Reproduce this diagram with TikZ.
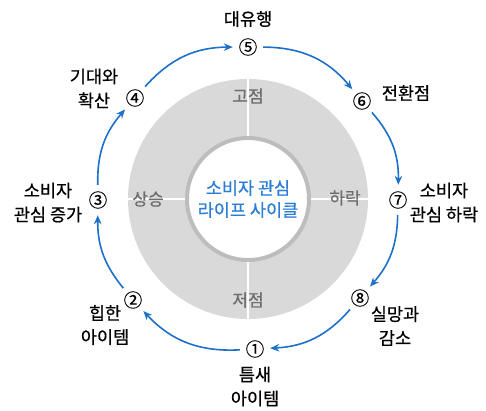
\documentclass[tikz,border=0pt]{standalone}
\usepackage{fontspec}
\setmainfont{Noto Sans CJK KR}
\newfontfamily\krmed{Noto Sans CJK KR}[FakeBold=0.6]
\usetikzlibrary{arrows.meta}
\definecolor{cycblue}{HTML}{1C70C8}
\definecolor{ctrblue}{HTML}{2A7DD4}
\definecolor{diskc}{HTML}{D9D9D9}
\definecolor{ringc}{HTML}{BDBDBD}
\definecolor{phasec}{HTML}{6E6E6E}
\begin{document}
\begin{tikzpicture}[x=1pt,y=1pt,
  lbl/.style={font=\krmed\fontsize{17.5}{24}\selectfont, align=center, text=black, inner sep=0pt},
  phase/.style={font=\krmed\fontsize{17}{20}\selectfont, text=phasec, inner sep=0pt},
  numnode/.style={circle, minimum size=30pt, inner sep=0pt, font=\krmed\fontsize{18.5}{18.5}\selectfont},
  cyc/.style={draw=cycblue, line width=1.6pt, -{Stealth[length=9pt,width=7.5pt]}}
]
\useasboundingbox (0,0) rectangle (486,410);
\coordinate (c) at (248,211);
% gray disk with white cross
\fill[diskc] (c) circle (120);
\draw[white, line width=2pt] ([yshift=120pt]c) -- ([yshift=-120pt]c);
\draw[white, line width=2pt] ([xshift=-120pt]c) -- ([xshift=120pt]c);
% inner circle
\filldraw[fill=white, draw=ringc, line width=4pt] (c) circle (61);
\node[font=\krmed\fontsize{17.5}{22}\selectfont, align=center, text=ctrblue, inner sep=0pt] (ctr) at (c) {소비자 관심\\라이프 사이클};
% phase labels
\node[phase] (top) at (248,314) {고점};
\node[phase] (bot) at (248,110) {저점};
\node[phase] (lft) at (148,211) {상승};
\node[phase] (rgt) at (345,212) {하락};
% numbered markers
\node[numnode] (n1) at (255,61) {①};
\node[numnode] (n2) at (133,110) {②};
\node[numnode] (n3) at (98,210) {③};
\node[numnode] (n4) at (135,312) {④};
\node[numnode] (n5) at (248,363) {⑤};
\node[numnode] (n6) at (362,309) {⑥};
\node[numnode] (n7) at (398,210) {⑦};
\node[numnode] (n8) at (360,112) {⑧};
% cycle arcs
\draw[cyc] (n1) to[bend left=25] (n2);
\draw[cyc] (n2) to[bend left=20] (n3);
\draw[cyc] (n3) to[bend left=21] (n4);
\draw[cyc] (n4) to[bend left=24] (n5);
\draw[cyc] (n5) to[bend left=25] (n6);
\draw[cyc] (n6) to[bend left=21] (n7);
\draw[cyc] (n7) to[bend left=20] (n8);
\draw[cyc] (n8) to[bend left=23] (n1);
% labels
\node[lbl] (l5) at (248,391) {대유행};
\node[lbl] (l4) at (94,321.5) {기대와\\확산};
\node[lbl] (l6) at (406,317) {전환점};
\node[lbl] (l3) at (48,207.5) {소비자\\관심 증가};
\node[lbl] (l7) at (444,207.5) {소비자\\관심 하락};
\node[lbl] (l2) at (105,85) {힙한\\아이템};
\node[lbl] (l8) at (395,84) {실망과\\감소};
\node[lbl] (l1) at (255,23.5) {틈새\\아이템};
\end{tikzpicture}
\end{document}
